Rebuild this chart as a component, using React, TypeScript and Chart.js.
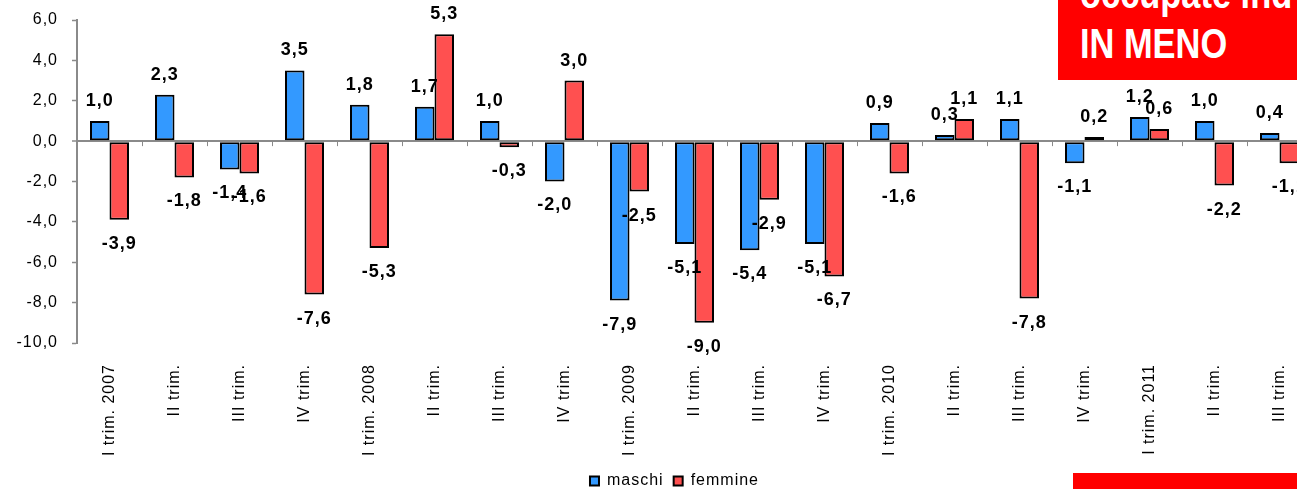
import React, { useEffect, useRef } from "react";
import { Chart, registerables } from "chart.js";

Chart.register(...registerables);

const categories = [
  "I trim. 2007", "II trim.", "III trim.", "IV trim.",
  "I trim. 2008", "II trim.", "III trim.", "IV trim.",
  "I trim. 2009", "II trim.", "III trim.", "IV trim.",
  "I trim. 2010", "II trim.", "III trim.", "IV trim.",
  "I trim. 2011", "II trim.", "III trim.",
];
const maschi = [1.0, 2.3, -1.4, 3.5, 1.8, 1.7, 1.0, -2.0, -7.9, -5.1, -5.4, -5.1, 0.9, 0.3, 1.1, -1.1, 1.2, 1.0, 0.4];
const femmine = [-3.9, -1.8, -1.6, -7.6, -5.3, 5.3, -0.3, 3.0, -2.5, -9.0, -2.9, -6.7, -1.6, 1.1, -7.8, 0.2, 0.6, -2.2, -1.1];
const seriesNames = ["maschi", "femmine"];
const seriesColors = ["#3399FF", "#FF5050"];
const yMin = -10;
const yMax = 6;
const yStep = 2;
const boxLines = ["occupate ind", "IN MENO"];

const FAMILY = "'Liberation Sans', Arial, Helvetica, sans-serif";
const fmt = (v: number) => Number(v).toFixed(1).replace(".", ",");

const spacingPlugin = {
  id: "letterSpacing",
  beforeLayout(chart: any) {
    chart.ctx.letterSpacing = "1px";
  },
  afterLayout(chart: any) {
    // let the y tick labels use the space to the left of the axis box
    const ys = chart.scales.y;
    if (ys) {
      ys.left = 0;
      ys.width = ys.right;
    }
  },
  beforeDraw(chart: any) {
    chart.ctx.letterSpacing = "1px";
  },
};

const labelsPlugin = {
  id: "valueLabels",
  afterDatasetsDraw(chart: any) {
    const ctx = chart.ctx;
    ctx.save();
    const xs = chart.scales.x;
    const ys = chart.scales.y;
    const y0 = ys.getPixelForValue(0);
    const n = chart.data.labels.length;
    ctx.strokeStyle = "#8a8a8a";
    ctx.lineWidth = 1;
    for (let i = 1; i < n; i++) {
      const x = Math.round((xs.getPixelForValue(i - 1) + xs.getPixelForValue(i)) / 2) + 0.5;
      ctx.beginPath();
      ctx.moveTo(x, y0);
      ctx.lineTo(x, y0 + 5);
      ctx.stroke();
    }
    ctx.font = `bold 18px ${FAMILY}`;
    ctx.fillStyle = "#000";
    ctx.textAlign = "center";
    ctx.textBaseline = "middle";
    chart.data.datasets.forEach((ds: any, di: number) => {
      const meta = chart.getDatasetMeta(di);
      meta.data.forEach((bar: any, i: number) => {
        const v = ds.data[i];
        const y = v >= 0 ? bar.y - 20 : bar.y + 24;
        ctx.fillText(fmt(v), bar.x, y);
      });
    });
    ctx.restore();
  },
};

export default function App() {
  const ref = useRef<HTMLCanvasElement | null>(null);
  useEffect(() => {
    if (!ref.current) return;
    Chart.defaults.font.family = FAMILY;
    const chart = new Chart(ref.current, {
      type: "bar",
      data: {
        labels: categories,
        datasets: [maschi, femmine].map((d, i) => ({
          label: seriesNames[i],
          data: d,
          backgroundColor: seriesColors[i],
          borderColor: "#000",
          borderWidth: 2,
          borderSkipped: false,
          categoryPercentage: 0.6,
          barPercentage: 1.0,
        })),
      },
      options: {
        responsive: false,
        animation: false,
        layout: { padding: { left: 37, top: 20, right: 0, bottom: 0 } },
        plugins: {
          legend: {
            position: "bottom",
            labels: {
              font: { size: 16, family: FAMILY },
              color: "#000",
              boxWidth: 9,
              boxHeight: 9,
              padding: 10,
            },
          },
          tooltip: { enabled: false },
        },
        scales: {
          x: {
            grid: { display: false },
            border: { display: false },
            ticks: {
              autoSkip: false,
              maxRotation: 90,
              minRotation: 90,
              padding: 13,
              font: { size: 16, family: FAMILY },
              color: "#000",
            },
            afterFit: (s: any) => {
              s.height = 120;
              s.paddingLeft = 0;
              s.paddingRight = 0;
            },
          },
          y: {
            min: yMin,
            max: yMax,
            ticks: {
              stepSize: yStep,
              callback: (v: any) => fmt(v),
              padding: 14,
              font: { size: 16, family: FAMILY },
              color: "#000",
            },
            grid: {
              color: (c: any) => (c.tick && c.tick.value === 0 ? "#8a8a8a" : "rgba(0,0,0,0)"),
              lineWidth: (c: any) => (c.tick && c.tick.value === 0 ? 2 : 1),
              tickColor: "#8a8a8a",
              tickLength: 5,
              tickWidth: 1.5,
            },
            border: { color: "#8a8a8a", width: 2 },
            afterFit: (s: any) => {
              s.width = 40;
              s.paddingTop = 0;
              s.paddingBottom = 0;
            },
          },
        },
      },
      plugins: [spacingPlugin, labelsPlugin],
    } as any);
    return () => chart.destroy();
  }, []);

  return (
    <div
      style={{
        position: "fixed",
        left: 0,
        top: 0,
        width: 1297,
        height: 489,
        overflow: "hidden",
        background: "#fff",
      }}
    >
      <canvas ref={ref} width={1312} height={499} style={{ position: "absolute", left: 0, top: 0, display: "block" }} />
      <div
        style={{
          position: "absolute",
          left: 1058,
          top: 0,
          width: 260,
          height: 80,
          background: "#ff0000",
          overflow: "hidden",
        }}
      >
        <div
          style={{
            position: "absolute",
            left: 22,
            top: -32,
            font: `bold 43px ${FAMILY}`,
            lineHeight: "50px",
            color: "#fff",
            transform: "scaleX(0.8)",
            transformOrigin: "left top",
            whiteSpace: "nowrap",
          }}
        >
          {boxLines.map((l) => (
            <div key={l}>{l}</div>
          ))}
        </div>
      </div>
      <div
        style={{
          position: "absolute",
          left: 1073,
          top: 473,
          width: 240,
          height: 16,
          background: "#ff0000",
        }}
      />
    </div>
  );
}
